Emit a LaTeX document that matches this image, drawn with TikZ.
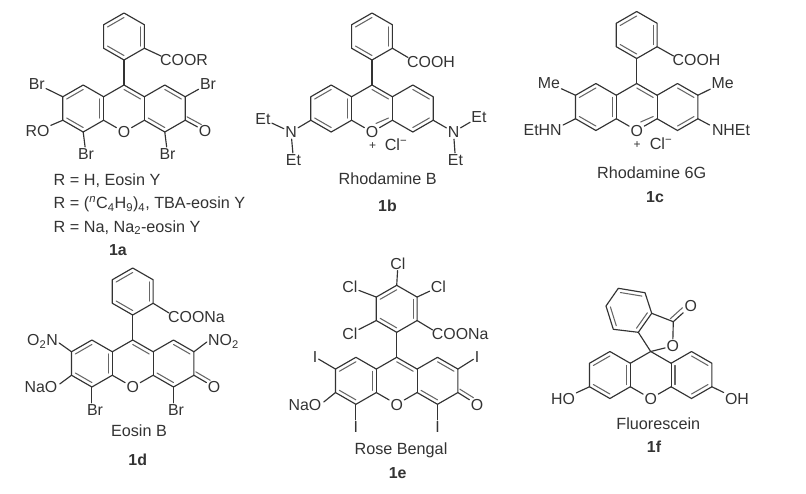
\documentclass[tikz,border=0pt]{standalone}
\usepackage{fontspec}
\setmainfont{Liberation Sans}
\usetikzlibrary{calc}
\definecolor{ink}{HTML}{333333}
\tikzset{
  bond/.style={draw=ink,line width=1.15pt,line cap=round,line join=round},
  innerbond/.style={draw=ink!75,line width=1.05pt,line cap=round},
  lab/.style={inner sep=1.2pt,text=ink,font=\fontsize{15.9}{18}\selectfont,text height=11.4pt,text depth=0pt},
  captext/.style={inner sep=0pt,text=ink,font=\fontsize{16.2}{18}\selectfont,text height=11.6pt,text depth=0pt},
  num/.style={captext,font=\fontsize{15.9}{18}\selectfont\bfseries}
}
\newcommand\bd[2]{\draw[bond] (#1) -- (#2);}
\newcommand\dbl[3]{\draw[innerbond] ($(#1)!.19!(#3)$) -- ($(#2)!.19!(#3)$);}
% xanthene skeleton: prefix, x, y of C9
\newcommand\core[3]{%
  \begin{scope}[shift={(#2,#3)}]
    \coordinate (#1c9) at (0,0);
    \coordinate (#1c9al) at (-20.4,11.75); \coordinate (#1c4al) at (-20.4,35.25);
    \coordinate (#1c9ar) at (20.4,11.75);  \coordinate (#1c4ar) at (20.4,35.25);
    \coordinate (#1c1l) at (-40.8,0); \coordinate (#1c2l) at (-61.2,11.75);
    \coordinate (#1c3l) at (-61.2,35.25); \coordinate (#1c4l) at (-40.8,47);
    \coordinate (#1c1r) at (40.8,0); \coordinate (#1c2r) at (61.2,11.75);
    \coordinate (#1c3r) at (61.2,35.25); \coordinate (#1c4r) at (40.8,47);
    \coordinate (#1cl) at (-40.8,23.5); \coordinate (#1cm) at (0,23.5); \coordinate (#1cr) at (40.8,23.5);
    \coordinate (#1ox) at (0,47);
    \node[lab] (#1o) at (0,47) {O};
  \end{scope}
  \bd{#1c9}{#1c9al}\bd{#1c9al}{#1c4al}\bd{#1c4al}{#1o}\bd{#1o}{#1c4ar}\bd{#1c4ar}{#1c9ar}\bd{#1c9ar}{#1c9}
  \draw[bond] (#1c9al) -- (#1c1l) -- (#1c2l) -- (#1c3l) -- (#1c4l) -- (#1c4al);
  \draw[bond] (#1c9ar) -- (#1c1r) -- (#1c2r) -- (#1c3r) -- (#1c4r) -- (#1c4ar);
  \dbl{#1c1l}{#1c2l}{#1cl}\dbl{#1c3l}{#1c4l}{#1cl}
}
\newcommand\leftv[1]{\dbl{#1c9al}{#1c4al}{#1cl}}
% quinoid right half
\newcommand\quin[1]{\leftv{#1}\dbl{#1c9}{#1c9ar}{#1cm}\dbl{#1c1r}{#1c2r}{#1cr}\dbl{#1c4r}{#1c4ar}{#1cr}}
% xanthylium right half
\newcommand\xan[1]{\leftv{#1}\dbl{#1c9}{#1c9ar}{#1cm}\dbl{#1c1r}{#1c2r}{#1cr}\dbl{#1c3r}{#1c4r}{#1cr}%
  \draw[innerbond] ($(#1c4ar)!.19!(#1cm)$) -- ($(#1ox)!.3!(#1cm)+(4,-1.5)$);}
% phenyl: prefix, x, y of C9
\newcommand\phen[3]{%
  \begin{scope}[shift={(#2,#3)}]
    \coordinate (#1p1) at (0,-25); \coordinate (#1p2) at (20.4,-36.75); \coordinate (#1p3) at (20.4,-60.25);
    \coordinate (#1p4) at (0,-72); \coordinate (#1p5) at (-20.4,-60.25); \coordinate (#1p6) at (-20.4,-36.75);
    \coordinate (#1pc) at (0,-48.5);
  \end{scope}
  \draw[bond] (#1p1) -- (#1p2) -- (#1p3) -- (#1p4) -- (#1p5) -- (#1p6) -- cycle;
  \bd{#1c9}{#1p1}
  \dbl{#1p2}{#1p3}{#1pc}\dbl{#1p4}{#1p5}{#1pc}\dbl{#1p1}{#1p6}{#1pc}
}
% carbonyl: ring carbon, oxygen node
\newcommand\oxo[3]{\bd{#1}{#2}\draw[innerbond] ($(#1)+(1.9,-3.4)$) -- ($(#1)!.72!(#3)+(1.9,-3.4)$);}
\begin{document}
\begin{tikzpicture}[x=1pt,y=-1pt]
\useasboundingbox (0,0) rectangle (806,493);
\fill[white] (0,0) rectangle (806,493);

% ---------- 1a
\core{a-}{124}{85}\phen{a-}{124}{85}\quin{a-}
\node[lab,anchor=west,inner sep=0pt] (a-coo) at (160,60) {COOR};
\draw[bond] (a-p2) -- ([shift={(1,-4)}]a-coo.west);
\node[lab] (a-br2l) at (36.7,84) {Br}; \bd{a-c2l}{a-br2l}
\node[lab] (a-br2r) at (208,84) {Br}; \bd{a-c2r}{a-br2r}
\node[lab] (a-ro) at (37.5,131) {RO}; \bd{a-c3l}{a-ro}
\node[lab] (a-br4l) at (86,154) {Br}; \bd{a-c4l}{a-br4l}
\node[lab] (a-br4r) at (167.5,154) {Br}; \bd{a-c4r}{a-br4r}
\node[lab] (a-oxo) at (205,131) {O}; \coordinate (a-oxoc) at (205,131); \oxo{a-c3r}{a-oxo}{a-oxoc}
\node[captext,anchor=west] (a-l1) at (53.5,180) {R = H, Eosin Y};
\node[captext,anchor=west] (a-l2) at (53.5,203) {R = (\textsuperscript{\itshape n}C\textsubscript{4}H\textsubscript{9})\textsubscript{4}, TBA-eosin Y};
\node[captext,anchor=west] (a-l3) at (53.5,226.5) {R = Na, Na\textsubscript{2}-eosin Y};
\node[num] (a-n) at (118,250) {1a};

% ---------- 1b
\core{b-}{372}{85}\phen{b-}{372}{85}\xan{b-}
\node[lab,anchor=west,inner sep=0pt] (b-coo) at (407,61.5) {COOH};
\draw[bond] (b-p2) -- ([shift={(1,-4)}]b-coo.west);
\node[lab] (b-nl) at (291,132) {N}; \bd{b-c3l}{b-nl}
\node[lab] (b-etl) at (263,119) {Et}; \bd{b-nl}{b-etl}
\node[lab] (b-etld) at (293.5,160) {Et}; \bd{b-nl}{b-etld}
\node[lab] (b-nr) at (453.5,132) {N}; \bd{b-c3r}{b-nr}
\node[lab] (b-etr) at (479,117) {Et}; \bd{b-nr}{b-etr}
\node[lab] (b-etrd) at (455.5,160) {Et}; \bd{b-nr}{b-etrd}
\node[captext,font=\fontsize{12}{14}\selectfont] (b-plus) at (372.7,144) {+};
\node[captext] (b-cl) at (396,145) {Cl\textsuperscript{−}};
\node[captext] (b-name) at (387.7,179) {Rhodamine B};
\node[num] (b-n) at (387.5,206) {1b};

% ---------- 1c
\core{c-}{636.7}{83.5}\phen{c-}{636.7}{83.5}\xan{c-}
\node[lab,anchor=west,inner sep=0pt] (c-coo) at (672.5,60) {COOH};
\draw[bond] (c-p2) -- ([shift={(1,-4)}]c-coo.west);
\node[lab] (c-mel) at (549,83) {Me}; \bd{c-c2l}{c-mel}
\node[lab] (c-mer) at (722.7,83) {Me}; \bd{c-c2r}{c-mer}
\node[lab] (c-nl) at (542.7,130) {EtHN}; \draw[bond] (c-c3l) -- ([shift={(0,-5)}]c-nl.east);
\node[lab] (c-nr) at (731,130) {NHEt}; \draw[bond] (c-c3r) -- ([shift={(-1,-5)}]c-nr.west);
\node[captext,font=\fontsize{12}{14}\selectfont] (c-plus) at (637,143) {+};
\node[captext] (c-cl) at (661,143.5) {Cl\textsuperscript{−}};
\node[captext] (c-name) at (651.7,172.7) {Rhodamine 6G};
\node[num] (c-n) at (655,197) {1c};

% ---------- 1d
\core{d-}{132.7}{340}\phen{d-}{132.7}{340}\quin{d-}
\node[lab,anchor=west,inner sep=0pt] (d-coo) at (168,317) {COONa};
\draw[bond] (d-p2) -- ([shift={(1,-4)}]d-coo.west);
\node[lab] (d-no2l) at (42.5,340) {O\textsubscript{2}N}; \draw[bond] (d-c2l) -- ([shift={(0,3)}]d-no2l.east);
\node[lab] (d-no2r) at (223.5,340) {NO\textsubscript{2}}; \draw[bond] (d-c2r) -- ([shift={(0,2)}]d-no2r.west);
\node[lab] (d-nao) at (41,387) {NaO}; \draw[bond] (d-c3l) -- ([shift={(1,-3)}]d-nao.east);
\node[lab] (d-brl) at (95,410) {Br}; \draw[bond] (d-c4l) -- (d-c4l |- d-brl.north);
\node[lab] (d-brr) at (176,410) {Br}; \draw[bond] (d-c4r) -- (d-c4r |- d-brr.north);
\node[lab] (d-oxo) at (214,387) {O}; \coordinate (d-oxoc) at (214,387); \oxo{d-c3r}{d-oxo}{d-oxoc}
\node[captext] (d-name) at (139,431) {Eosin B};
\node[num] (d-n) at (137.7,460) {1d};

% ---------- 1e
\core{e-}{396.7}{357.3}\phen{e-}{396.7}{357.3}\quin{e-}
\node[lab,anchor=west,inner sep=0pt] (e-coo) at (431.7,334) {COONa};
\draw[bond] (e-p2) -- ([shift={(1,-4)}]e-coo.west);
\node[lab] (e-cl4) at (398,263.5) {Cl}; \bd{e-p4}{e-cl4}
\node[lab] (e-cl5) at (350,287) {Cl}; \bd{e-p5}{e-cl5}
\node[lab] (e-cl3) at (438.5,287) {Cl}; \bd{e-p3}{e-cl3}
\node[lab] (e-cl6) at (350,334) {Cl}; \bd{e-p6}{e-cl6}
\node[lab] (e-il) at (315,357) {I}; \bd{e-c2l}{e-il}
\node[lab] (e-ir) at (477,357) {I}; \bd{e-c2r}{e-ir}
\node[lab] (e-nao) at (305,405) {NaO}; \draw[bond] (e-c3l) -- ([shift={(1,-3)}]e-nao.east);
\node[lab] (e-i4l) at (355.9,427) {I}; \bd{e-c4l}{e-i4l}
\node[lab] (e-i4r) at (437.5,427) {I}; \bd{e-c4r}{e-i4r}
\node[lab] (e-oxo) at (477,404.5) {O}; \coordinate (e-oxoc) at (477,404.5); \oxo{e-c3r}{e-oxo}{e-oxoc}
\node[captext] (e-name) at (401,449) {Rose Bengal};
\node[num] (e-n) at (397.7,473) {1e};

% ---------- 1f
\core{f-}{650.7}{351.5}
\leftv{f-}\dbl{f-c1r}{f-c2r}{f-cr}\dbl{f-c3r}{f-c4r}{f-cr}\dbl{f-c9ar}{f-c4ar}{f-cr}
\coordinate (f-s1) at (638.3,332.3);
\coordinate (f-s2) at (651.7,313.3);
\coordinate (f-b1) at (645,292.7);
\coordinate (f-b2) at (618.3,288.3);
\coordinate (f-b3) at (606,306);
\coordinate (f-b4) at (613.3,329.3);
\coordinate (f-bc) at (629,310.5);
\coordinate (f-co) at (673.3,321.7);
\draw[bond] (f-s1) -- (f-s2) -- (f-b1) -- (f-b2) -- (f-b3) -- (f-b4) -- cycle;
\dbl{f-s1}{f-s2}{f-bc}\dbl{f-b1}{f-b2}{f-bc}\dbl{f-b3}{f-b4}{f-bc}
\bd{f-c9}{f-s1}\bd{f-s2}{f-co}
\node[lab] (f-ro) at (672.7,346) {O}; \bd{f-co}{f-ro}\bd{f-ro}{f-c9}
\node[lab] (f-oxo) at (690.7,306) {O}; \coordinate (f-oxoc) at (690.7,306);
\bd{f-co}{f-oxo}\draw[innerbond] ($(f-co)+(-3,-3)$) -- ($(f-co)!.7!(f-oxoc)+(-3,-3)$);
\node[lab] (f-ho) at (563,399) {HO}; \bd{f-c3l}{f-ho}
\node[lab] (f-oh) at (737,399) {OH}; \bd{f-c3r}{f-oh}
\node[captext] (f-name) at (658.3,423.3) {Fluorescein};
\node[num] (f-n) at (654,447) {1f};
\end{tikzpicture}
\end{document}
